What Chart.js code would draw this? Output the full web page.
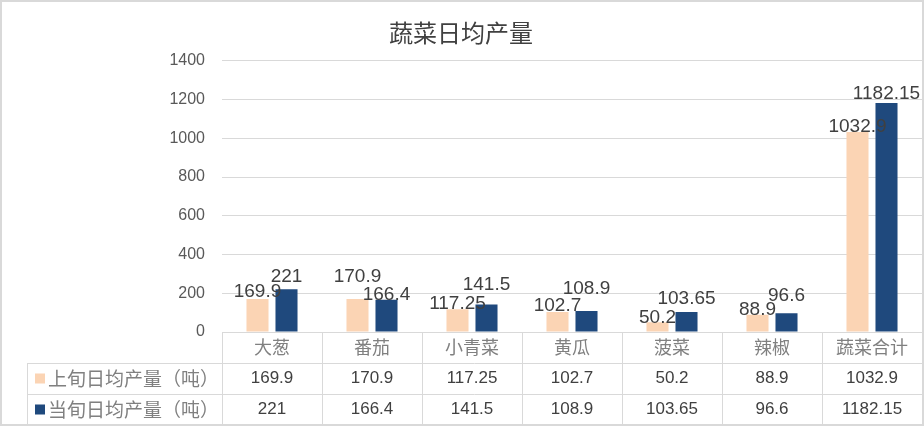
<!DOCTYPE html>
<html>
<head>
<meta charset="utf-8">
<script src="https://cdn.jsdelivr.net/npm/chart.js@4"></script>
<style>
  body { margin: 0; background: #fff; }
  #wrap { width: 924px; height: 426px; position: relative; }
</style>
</head>
<body>
<div id="wrap"><canvas id="vegChart"></canvas></div>
<script>
const categories = ['大葱', '番茄', '小青菜', '黄瓜', '菠菜', '辣椒', '蔬菜合计'];
const seriesNames = ['上旬日均产量（吨）', '当旬日均产量（吨）'];
const lastPeriod = [169.9, 170.9, 117.25, 102.7, 50.2, 88.9, 1032.9];
const thisPeriod = [221, 166.4, 141.5, 108.9, 103.65, 96.6, 1182.15];
const yTicks = [0, 200, 400, 600, 800, 1000, 1200, 1400];

const colors = ['#FBD4B4', '#1F497D'];
const gridColor = '#d9d9d9';
const numFont = '"Liberation Sans", "Noto Sans CJK SC", sans-serif';
const cjkFont = '"Noto Sans CJK SC", sans-serif';
// how far each value label sits above its bar (px), like the hand-moved labels in the original
const labelLift = [
    [7, 22, 6, 6, 5, 5, 5],
    [12, 5, 20, 22, 13, 18, 9]
];

// data labels above bars + the data table under the plot
const tablePlugin = {
    id: 'tablePlugin',
    afterDatasetsDraw(chart) {
        const ctx = chart.ctx;
        ctx.save();
        ctx.font = '19px ' + numFont;
        ctx.fillStyle = '#404040';
        ctx.textAlign = 'center';
        ctx.textBaseline = 'middle';
        chart.data.datasets.forEach((ds, i) => {
            chart.getDatasetMeta(i).data.forEach((bar, j) => {
                ctx.fillText(String(ds.data[j]), bar.x, bar.y - labelLift[i][j]);
            });
        });
        ctx.restore();
    },
    afterDraw(chart) {
        const ctx = chart.ctx;
        const area = chart.chartArea;
        const x = chart.scales.x;
        const rowH = 31;
        const top = area.bottom;
        const tableLeft = 27;
        ctx.save();
        ctx.strokeStyle = gridColor;
        ctx.lineWidth = 1;
        ctx.beginPath();
        // axis line + row lines
        ctx.moveTo(area.left, top + 0.5); ctx.lineTo(area.right, top + 0.5);
        for (let r = 1; r <= 3; r++) {
            const y = Math.round(top + r * rowH) + 0.5;
            ctx.moveTo(tableLeft, y); ctx.lineTo(area.right, y);
        }
        // vertical lines
        const step = (area.right - area.left) / categories.length;
        for (let c = 0; c <= categories.length; c++) {
            const vx = Math.round(area.left + c * step) + 0.5;
            ctx.moveTo(vx, top); ctx.lineTo(vx, top + 3 * rowH);
        }
        ctx.moveTo(tableLeft + 0.5, top + rowH); ctx.lineTo(tableLeft + 0.5, top + 3 * rowH);
        ctx.stroke();

        ctx.textAlign = 'center';
        ctx.textBaseline = 'middle';
        // category row
        ctx.font = '18px ' + cjkFont;
        ctx.fillStyle = '#808080';
        categories.forEach((c, i) => {
            ctx.fillText(c, x.getPixelForValue(i), top + rowH / 2);
        });
        // value rows
        const rows = [lastPeriod, thisPeriod];
        rows.forEach((vals, r) => {
            const cy = top + rowH * (r + 1) + rowH / 2;
            ctx.font = '17px ' + numFont;
            ctx.fillStyle = '#404040';
            ctx.textAlign = 'center';
            vals.forEach((v, i) => {
                ctx.fillText(String(v), x.getPixelForValue(i), cy);
            });
            // legend key
            ctx.fillStyle = colors[r];
            ctx.fillRect(35, cy - 5, 10, 10);
            ctx.font = '19px ' + cjkFont;
            ctx.fillStyle = '#808080';
            ctx.textAlign = 'left';
            ctx.fillText(seriesNames[r], 48, cy);
        });

        // outer border
        ctx.strokeStyle = gridColor;
        ctx.lineWidth = 2;
        ctx.strokeRect(1, 1, chart.width - 2, chart.height - 2);
        ctx.restore();
    }
};

const ctx = document.getElementById('vegChart').getContext('2d');
new Chart(ctx, {
    type: 'bar',
    data: {
        labels: categories,
        datasets: [{
            label: seriesNames[0],
            data: lastPeriod,
            backgroundColor: colors[0],
            categoryPercentage: 0.58,
            barPercentage: 0.76
        }, {
            label: seriesNames[1],
            data: thisPeriod,
            backgroundColor: colors[1],
            categoryPercentage: 0.58,
            barPercentage: 0.76
        }]
    },
    options: {
        responsive: true,
        maintainAspectRatio: false,
        animation: false,
        layout: {
            padding: { left: 0, right: 2, top: 0, bottom: 94 }
        },
        scales: {
            x: { display: false },
            y: {
                min: 0,
                max: 1400,
                afterBuildTicks: (scale) => { scale.ticks = yTicks.map(v => ({ value: v })); },
                afterFit: (scale) => { scale.width = 222; },
                border: { display: false },
                grid: { color: gridColor, drawTicks: false },
                ticks: {
                    padding: 17,
                    color: '#595959',
                    font: { size: 16, family: numFont },
                    callback: (v) => String(v)
                }
            }
        },
        plugins: {
            legend: { display: false },
            tooltip: { enabled: false },
            title: {
                display: true,
                text: '蔬菜日均产量',
                color: '#404040',
                font: { size: 24, weight: 'normal', family: cjkFont },
                padding: { top: 18, bottom: 14 }
            }
        }
    },
    plugins: [tablePlugin]
});
</script>
</body>
</html>
